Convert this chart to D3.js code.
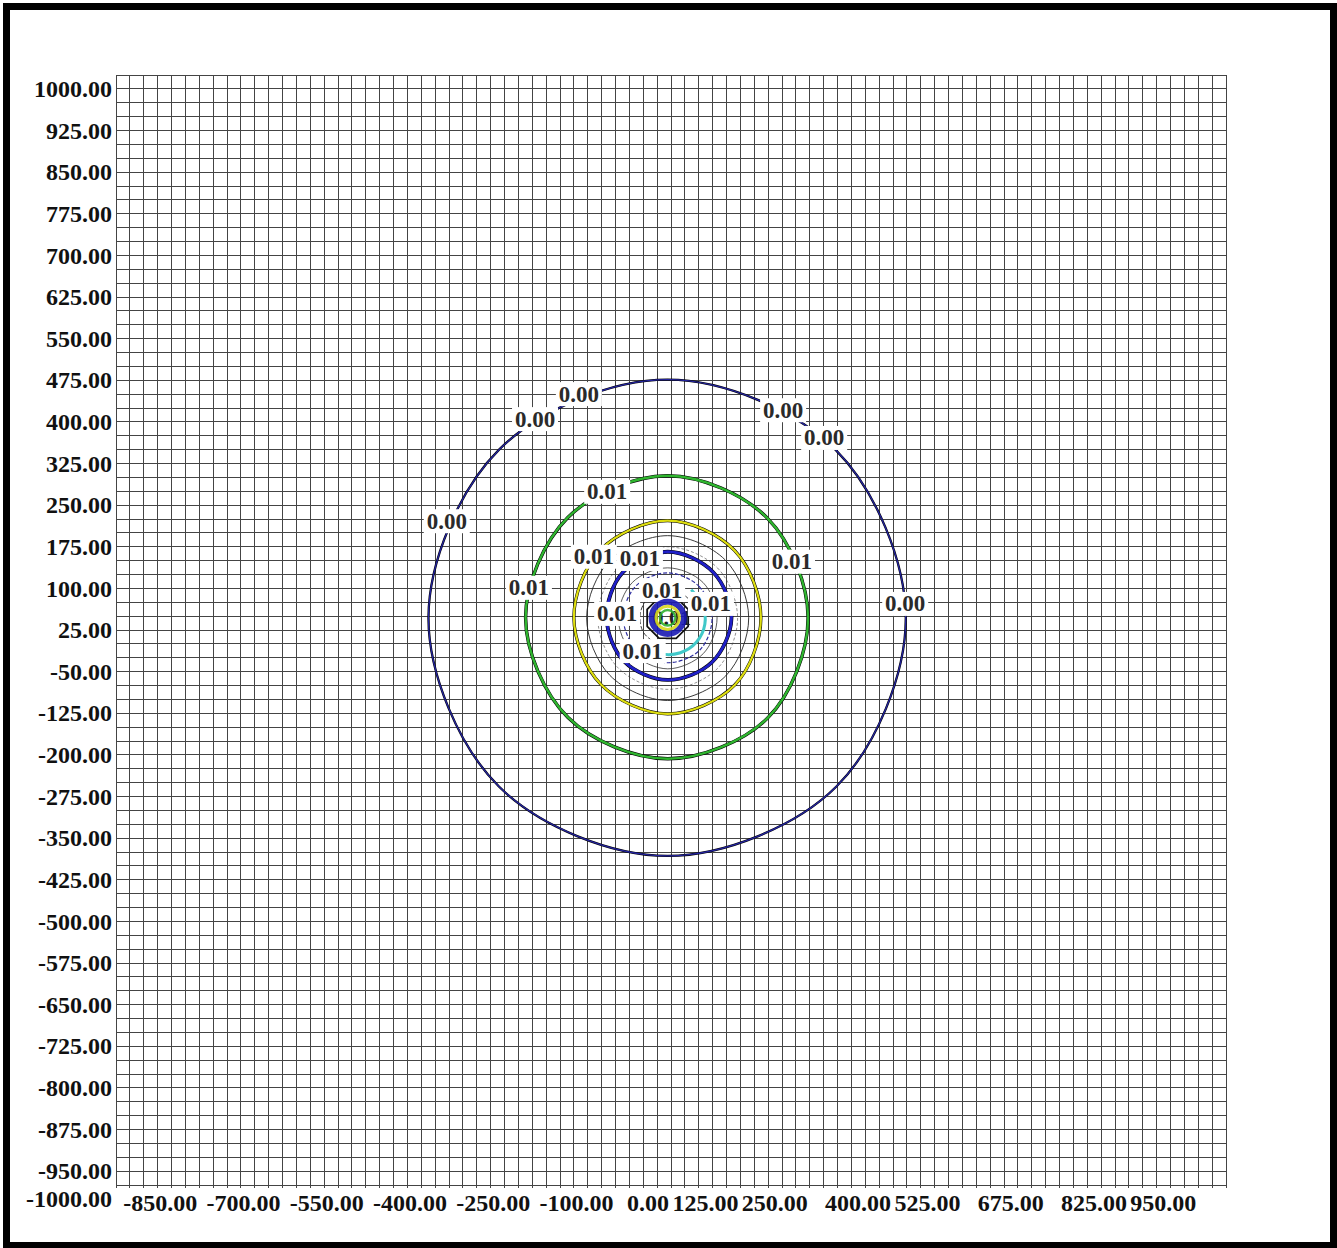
<!DOCTYPE html>
<html><head><meta charset="utf-8">
<script src="https://cdn.jsdelivr.net/npm/d3@7"></script>
<style>body{margin:0;background:#fff}svg{display:block}</style>
</head><body>
<svg id="c" width="1337" height="1248"></svg>
<script>
// ---- data ----
const xTicks = [-850,-700,-550,-400,-250,-100,0,125,250,400,525,675,825,950];
const yTicks = [1000,925,850,775,700,625,550,475,400,325,250,175,100,25,-50,-125,-200,-275,-350,-425,-500,-575,-650,-725,-800,-875,-950,-1000];
const domainMin = -1000, domainMax = 1000, gridStep = 25;
const sourceX = -6, sourceY = 22;

// contour rings: radii (data units) at N, NE, E, SE, S, SW, W, NW
const ringLevels = ["0.00","0.01","0.01","0.01","0.01","0.01","0.01","0.01","0.01","0.01","0.01"];
const ringRadii = [
  [429,428,429,430,429,430,431,429],
  [256,254,253,255,254,254,256,255],
  [175,171,168,171,173,170,169,172],
  [148,147,146,148,149,147,146,147],
  [119,116,115,113,112,111,110,115],
  [128,127,126,128,129,127,126,127],
  [90,90,89,91,92,90,89,90],
  [81,80,80,82,81,80,80,81],
  [29,29,29,29,29,29,29,29],
  [21,21,21,21,21,21,21,21],
  [14,14,14,14,14,14,14,14]
];
// octagon contour (data units, vertex radii)
const octRadii = [40,40,40,40,40,40,40,40];
// partial cyan contour: angles (deg, clockwise from north) and radii
const cyanAngles = [40,70,100,130,160,190,215];
const cyanRadii  = [66,67,68,68,67,66,64];
// partial inner black contour (around the "0.01" label near the source)
const innerAngles = [200,240,280,320,350,20,50];
const innerRadii  = [52,51,50,51,52,52,51];

const labelText = ["0.00","0.00","0.00","0.00","0.00","0.00","0.01","0.01","0.01","0.01","0.01","0.01","0.01","0.01","0.01"];
const labelX = [-404,-245,-166,202,276,422,-115,-256,218,-139,-56,-16,-97,72,-51];
const labelY = [196,380,425,396,346,47,249,76,123,132,128,72,29,47,-38];

// ---- styles ----
const ringColor = ["#2424a0","#2fb52f","#dede10","#222","#2020c8","#444","#333","#3030a0","#1a1ab4","#d8d820","#30b030"];
const ringWidth = [1.3,2.4,2.2,0.9,2.8,0.6,0.8,1.2,6,3,2.4];
const ringDash  = [null,null,null,null,null,"3,2",null,"4,2",null,null,null];
const ringShadow = [true,true,true,false,true,false,false,false,false,false,false];

// ---- layout ----
const svg = d3.select("#c");
const L = 116, R = 1226, T = 75, B = 1185;
const xs = d3.scaleLinear().domain([domainMin, domainMax]).range([L, R]);
const ys = d3.scaleLinear().domain([domainMin, domainMax]).range([B, T]);
const font = "'Liberation Serif','Times New Roman',serif";

svg.append("rect").attr("width",1337).attr("height",1248).attr("fill","#fff");
// frame
svg.append("rect").attr("x",6.5).attr("y",6.5).attr("width",1327).attr("height",1239)
  .attr("fill","none").attr("stroke","#000").attr("stroke-width",7);

// grid
const gv = d3.range(domainMin, domainMax + 0.1, gridStep);
const grid = svg.append("g").attr("stroke","#444").attr("stroke-width",1).attr("shape-rendering","crispEdges");
grid.selectAll("line.v").data(gv).join("line").attr("class","v")
  .attr("x1",d=>xs(d)).attr("x2",d=>xs(d)).attr("y1",T).attr("y2",B+3);
grid.selectAll("line.h").data(gv).join("line").attr("class","h")
  .attr("y1",d=>ys(d)).attr("y2",d=>ys(d)).attr("x1",L).attr("x2",R);

// axis labels
svg.append("g").selectAll("text").data(yTicks).join("text")
  .attr("x",112).attr("y",d=>ys(d)+14).attr("text-anchor","end").attr("dominant-baseline","central")
  .attr("font-family",font).attr("font-weight","bold").attr("font-size",24).attr("fill","#111")
  .text(d=>d.toFixed(2));
svg.append("g").selectAll("text").data(xTicks).join("text")
  .attr("x",d=>xs(d)-2).attr("y",1203).attr("text-anchor","end").attr("dominant-baseline","central")
  .attr("font-family",font).attr("font-weight","bold").attr("font-size",24).attr("fill","#111")
  .text(d=>d.toFixed(2));

// contours
const rpx = r => xs(r) - xs(0);
const cg = svg.append("g").attr("transform",`translate(${xs(sourceX)},${ys(sourceY)})`)
  .attr("fill","none").attr("stroke-linejoin","round");
const ringLine = d3.lineRadial().curve(d3.curveCatmullRomClosed.alpha(0.5));
const openLine = d3.lineRadial().curve(d3.curveCatmullRom);
function ringPts(radii, offDeg){ return radii.map((r,i)=>[(offDeg + i*360/radii.length)*Math.PI/180, rpx(r)]); }

ringRadii.forEach((radii,i)=>{
  if (i >= 8) return;
  const p = ringLine(ringPts(radii,0));
  if (ringShadow[i]) cg.append("path").attr("d",p).attr("stroke","#000").attr("stroke-width",ringWidth[i]+1);
  cg.append("path").attr("d",p).attr("stroke",ringColor[i]).attr("stroke-width",ringWidth[i])
    .attr("stroke-dasharray",ringDash[i]);
});
// cyan partial
cg.append("path").attr("d", openLine(cyanAngles.map((a,i)=>[a*Math.PI/180, rpx(cyanRadii[i])])))
  .attr("stroke","#40c8c8").attr("stroke-width",3);
cg.append("path").attr("d", openLine(innerAngles.map((a,i)=>[a*Math.PI/180, rpx(innerRadii[i])])))
  .attr("stroke","#222").attr("stroke-width",0.9).attr("stroke-dasharray","5,2");
// octagon
cg.append("path").attr("d", d3.lineRadial().curve(d3.curveLinearClosed)(ringPts(octRadii,22.5)))
  .attr("stroke","#111").attr("stroke-width",1.8);

// contour labels
const lg = svg.append("g");
labelText.forEach((t,i)=>{
  const g = lg.append("g").attr("transform",`translate(${xs(labelX[i])},${ys(labelY[i])})`);
  g.append("rect").attr("x",-23).attr("y",-12).attr("width",46).attr("height",24).attr("fill","#fff");
  g.append("text").attr("text-anchor","middle").attr("dominant-baseline","central")
    .attr("font-family",font).attr("font-weight","bold").attr("font-size",23).attr("fill","#2a2a2a").text(t);
});
// innermost rings around the source, drawn over a partly hidden label
const inner = svg.append("g").attr("transform",`translate(${xs(sourceX)},${ys(sourceY)})`).attr("fill","none");
inner.append("text").attr("text-anchor","middle").attr("dominant-baseline","central").attr("x",4)
  .attr("font-family",font).attr("font-weight","bold").attr("font-size",22).attr("fill","#222").text("0.01");
[8,9,10].forEach(i=>{
  inner.append("path").attr("d",ringLine(ringPts(ringRadii[i],0))).attr("stroke",ringColor[i])
    .attr("stroke-width",ringWidth[i]).attr("opacity",0.9);
});
</script>
</body></html>
